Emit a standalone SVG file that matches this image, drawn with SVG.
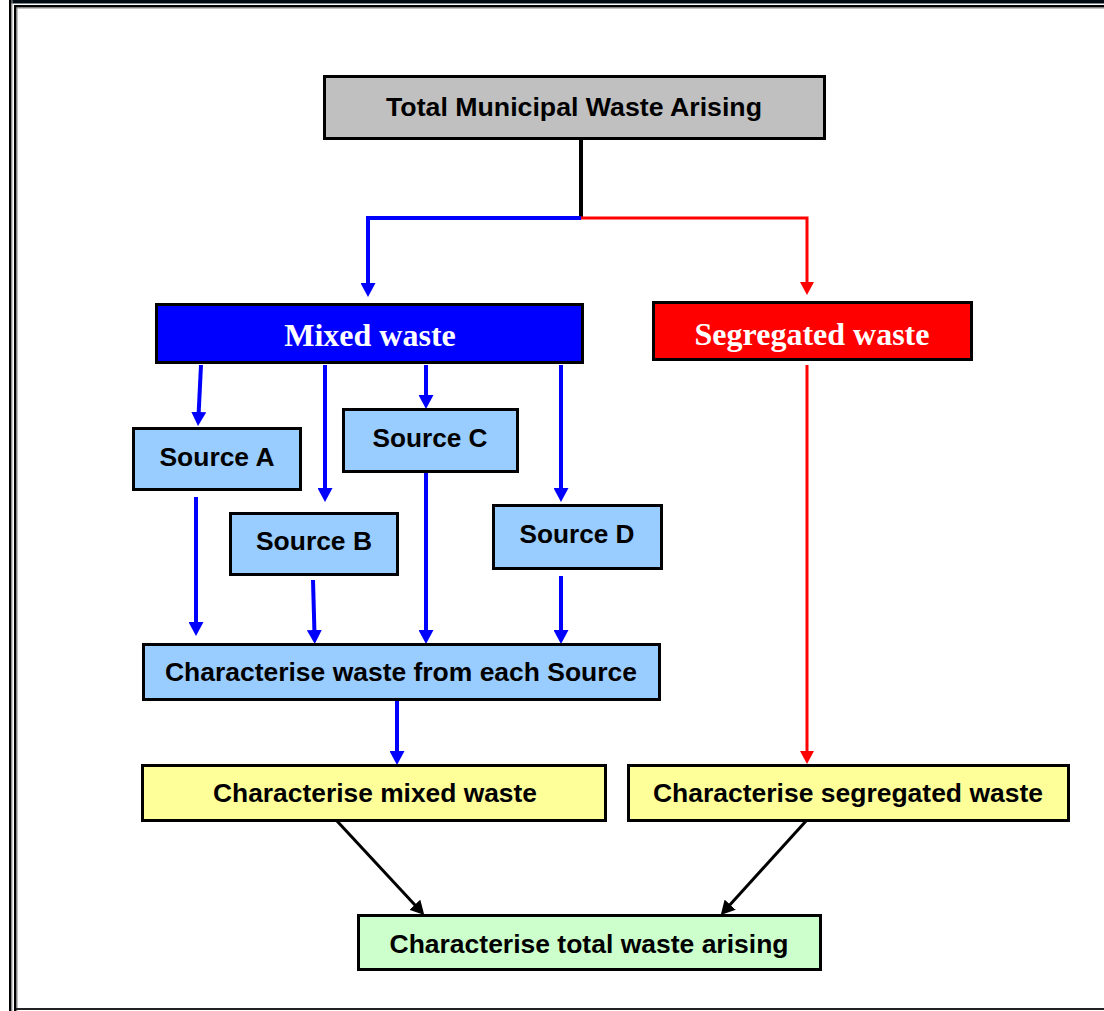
<svg xmlns="http://www.w3.org/2000/svg" width="1104" height="1011" viewBox="0 0 1104 1011">
<style>
.box{stroke:#000;stroke-width:3}
.t{font-family:"Liberation Sans",Arial,sans-serif;font-weight:bold;font-size:25px;fill:#000;text-anchor:middle}
.ts{font-family:"Liberation Serif","Times New Roman",serif;font-weight:bold;font-size:32px;fill:#fff;text-anchor:middle}
.b{stroke:#0000FF;stroke-width:4;fill:none}
.r{stroke:#FF0000;stroke-width:3;fill:none}
.k{stroke:#000;stroke-width:3;fill:none}
</style>
<defs>
<marker id="ab" markerUnits="userSpaceOnUse" markerWidth="15" markerHeight="15" refX="4" refY="7.5" orient="auto" viewBox="0 0 15 15"><path d="M0,0 L14,7.5 L0,15 z" fill="#0000FF"/></marker>
<marker id="ar" markerUnits="userSpaceOnUse" markerWidth="15" markerHeight="15" refX="4" refY="7" orient="auto" viewBox="0 0 15 14"><path d="M0,0 L13,7 L0,14 z" fill="#FF0000"/></marker>
<marker id="ak" markerUnits="userSpaceOnUse" markerWidth="15" markerHeight="15" refX="4" refY="7.5" orient="auto" viewBox="0 0 15 15"><path d="M0,0 L14,7.5 L0,15 z" fill="#000"/></marker>
</defs>
<rect width="1104" height="1011" fill="#fff"/>
<g id="frame">
<rect x="9" y="0" width="1095" height="3.5" fill="#000a12"/>
<rect x="9" y="0" width="2.5" height="1011" fill="#000"/>
<rect x="11.5" y="0" width="1" height="1011" fill="#999"/>
<rect x="14" y="5" width="1090" height="2.5" fill="#000"/>
<rect x="16.5" y="7.5" width="1088" height="1" fill="#888"/>
<rect x="14" y="5" width="2.5" height="1006" fill="#000"/>
<rect x="16.5" y="7.5" width="1" height="1003" fill="#888"/>
<rect x="16" y="1008" width="1088" height="2" fill="#222"/>
</g>
<g id="connectors">
<path class="k" d="M581,139 V218" style="stroke-width:4"/>
<path class="b" d="M581,218 H368 V287" marker-end="url(#ab)"/>
<path class="r" d="M581,218 H807 V286" marker-end="url(#ar)"/>
<path class="b" d="M201,365 L198.5,416" marker-end="url(#ab)"/>
<path class="b" d="M325,365 V492" marker-end="url(#ab)"/>
<path class="b" d="M426,365 V399" marker-end="url(#ab)"/>
<path class="b" d="M561,365 V492" marker-end="url(#ab)"/>
<path class="b" d="M196,497 V626" marker-end="url(#ab)"/>
<path class="b" d="M313,580 L314.5,634" marker-end="url(#ab)"/>
<path class="b" d="M426,472 V634" marker-end="url(#ab)"/>
<path class="b" d="M561,576 V634" marker-end="url(#ab)"/>
<path class="b" d="M397,700 V755" marker-end="url(#ab)"/>
<path class="r" d="M807,365 V755" marker-end="url(#ar)"/>
<path class="k" d="M337,821 L417.5,907.7" marker-end="url(#ak)"/>
<path class="k" d="M806,821 L727.5,907.6" marker-end="url(#ak)"/>
</g>
<g id="total">
<rect class="box" x="324.5" y="76.5" width="500" height="62" fill="#C0C0C0"/>
<text class="t" x="574" y="116" style="font-size:26px" textLength="376" lengthAdjust="spacingAndGlyphs">Total Municipal Waste Arising</text>
</g>
<g id="mixed">
<rect class="box" x="156.5" y="304.5" width="426" height="58" fill="#0000FF"/>
<text class="ts" x="370" y="346">Mixed waste</text>
</g>
<g id="segregated">
<rect class="box" x="653.5" y="302.5" width="318" height="57" fill="#FF0000"/>
<text class="ts" x="812" y="345">Segregated waste</text>
</g>
<g id="sourceA">
<rect class="box" x="133.5" y="428.5" width="167" height="61" fill="#99CCFF"/>
<text class="t" x="217" y="466" textLength="115" lengthAdjust="spacingAndGlyphs">Source A</text>
</g>
<g id="sourceB">
<rect class="box" x="230.5" y="513.5" width="167" height="61" fill="#99CCFF"/>
<text class="t" x="314" y="550" textLength="116" lengthAdjust="spacingAndGlyphs">Source B</text>
</g>
<g id="sourceC">
<rect class="box" x="343.5" y="409.5" width="174" height="62" fill="#99CCFF"/>
<text class="t" x="430" y="447" textLength="115" lengthAdjust="spacingAndGlyphs">Source C</text>
</g>
<g id="sourceD">
<rect class="box" x="493.5" y="505.5" width="168" height="63" fill="#99CCFF"/>
<text class="t" x="577" y="543" textLength="115" lengthAdjust="spacingAndGlyphs">Source D</text>
</g>
<g id="charEach">
<rect class="box" x="143.5" y="644.5" width="516" height="55" fill="#99CCFF"/>
<text class="t" x="401" y="681" textLength="472" lengthAdjust="spacingAndGlyphs">Characterise waste from each Source</text>
</g>
<g id="charMixed">
<rect class="box" x="142.5" y="765.5" width="463" height="55" fill="#FFFF99"/>
<text class="t" x="375" y="802" textLength="324" lengthAdjust="spacingAndGlyphs">Characterise mixed waste</text>
</g>
<g id="charSeg">
<rect class="box" x="628.5" y="765.5" width="440" height="55" fill="#FFFF99"/>
<text class="t" x="848" y="802" textLength="390" lengthAdjust="spacingAndGlyphs">Characterise segregated waste</text>
</g>
<g id="charTotal">
<rect class="box" x="358.5" y="915.5" width="462" height="54" fill="#CCFFCC"/>
<text class="t" x="589" y="953" textLength="399" lengthAdjust="spacingAndGlyphs">Characterise total waste arising</text>
</g>
</svg>
